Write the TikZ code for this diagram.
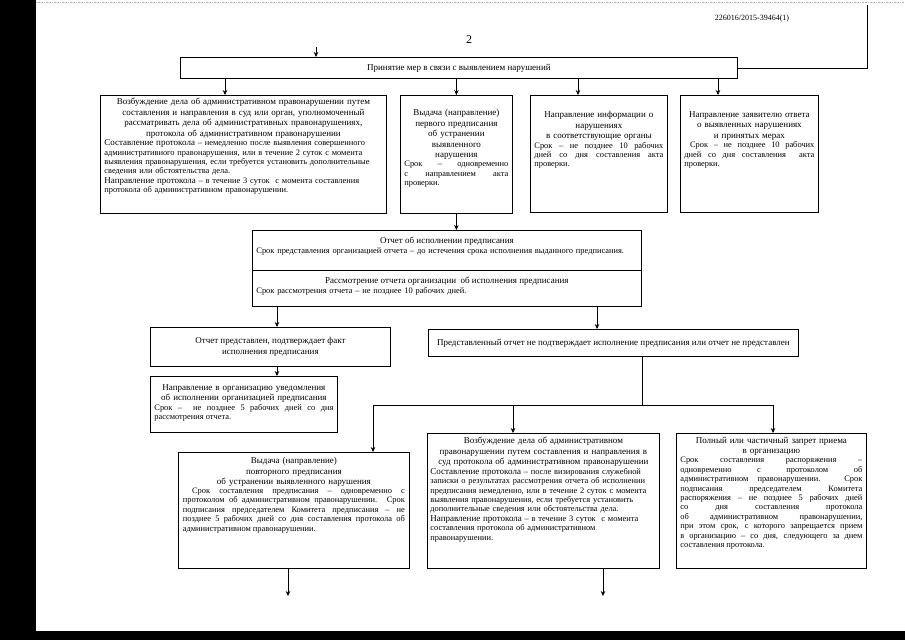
\documentclass[tikz,border=0pt]{standalone}
\usepackage{fontspec}
\setmainfont{Liberation Serif}
\usetikzlibrary{arrows.meta,positioning}
\setlength{\parindent}{0pt}

\newcommand{\ttlfont}{\fontsize{9}{10.6}\selectfont}
\newcommand{\smlfont}{\fontsize{8.4}{9.4}\selectfont}

\begin{document}
\begin{tikzpicture}[x=1pt, y=-1pt,
  box/.style={draw, line width=0.8pt, anchor=north west, inner sep=0pt},
  ttl/.style={font=\ttlfont, align=center, inner sep=0pt},
  txt/.style={font=\smlfont, align=justify, inner sep=0pt},
  ltxt/.style={font=\smlfont, align=left, inner sep=0pt},
  arr/.style={-{Stealth[length=5pt, width=4.5pt]}, line width=0.6pt},
  ln/.style={line width=0.6pt}
]
\useasboundingbox (0,0) rectangle (905,640);
% scan border
\fill[black] (0,0) rectangle (36,640);
\fill[black] (0,631) rectangle (905,640);
\draw[gray!60, densely dotted, line width=0.6pt] (36,2) -- (905,2);

\node[font=\fontsize{8}{9}\selectfont] (docno) at (752,19) {226016/2015-39464(1)};
\node[font=\fontsize{12}{14}\selectfont] (pgno) at (469,40) {2};

% top level
\node[box, minimum width=557pt, minimum height=21pt] (top) at (180,57) {};
\node[ttl] (topT) at (top.center) {Принятие мер в связи с выявлением нарушений};

\node[box, minimum width=286pt, minimum height=118pt] (boxA) at (100,95) {};
\node[ttl, text width=280pt, below=3pt of boxA.north] (boxAT) {Возбуждение дела об административном правонарушении путем\\
  составления и направления в суд или орган, уполномоченный\\
  рассматривать дела об административных правонарушениях,\\
  протокола об административном правонарушении};
\node[ltxt, text width=278pt, below=1pt of boxAT] (boxAB) {{\ttlfont Составление протокола} – немедленно после выявления совершенного\\
  административного правонарушения, или в течение 2 суток с момента\\
  выявления правонарушения, если требуется установить дополнительные\\
  сведения или обстоятельства дела.\\
  {\ttlfont Направление протокола} – в течение 3 суток~ с момента составления\\
  протокола об административном правонарушении.};

\node[box, minimum width=112pt, minimum height=118pt] (boxB) at (400,95) {};
\node[ttl, text width=106pt, below=14pt of boxB.north] (boxBT) {Выдача (направление)\\ первого предписания\\ об устранении\\ выявленного\\ нарушения};
\node[txt, text width=104pt, below=1pt of boxBT] (boxBB) {Срок – одновременно\linebreak с направлением акта\linebreak проверки.};

\node[box, minimum width=137pt, minimum height=117pt] (boxC) at (530,95) {};
\node[ttl, text width=131pt, below=16pt of boxC.north] (boxCT) {Направление информации о\\ нарушениях\\ в соответствующие органы};
\node[txt, text width=129pt, below=1pt of boxCT] (boxCB) {Срок – не позднее 10 рабочих\linebreak дней со дня составления акта\linebreak проверки.};

\node[box, minimum width=138pt, minimum height=117pt] (boxD) at (680,95) {};
\node[ttl, text width=132pt, below=16pt of boxD.north] (boxDT) {Направление заявителю ответа\\ о выявленных нарушениях\\ и принятых мерах};
\node[txt, text width=130pt, below=1pt of boxDT] (boxDB) {~Срок – не позднее 10 рабочих\linebreak дней со дня составления~ акта\linebreak проверки.};

% report
\node[box, minimum width=389pt, minimum height=40pt] (repA) at (252,230) {};
\node[ttl, below=7pt of repA.north] (repAT) {Отчет об исполнении предписания};
\node[ltxt, text width=381pt, below=2pt of repAT] (repAB) {Срок представления организацией отчета – до истечения срока исполнения выданного предписания.};
\node[box, minimum width=389pt, minimum height=36pt] (repB) at (252,270) {};
\node[ttl, below=7pt of repB.north] (repBT) {Рассмотрение отчета организации~ об исполнения предписания};
\node[ltxt, text width=381pt, below=2pt of repBT] (repBB) {Срок рассмотрения отчета – не позднее 10 рабочих дней.};

% confirmed
\node[box, minimum width=240pt, minimum height=39pt] (ok) at (150,327) {};
\node[ttl] (okT) at (ok.center) {Отчет представлен, подтверждает факт\\ исполнения предписания};
\node[box, minimum width=187pt, minimum height=56pt] (note) at (150,376) {};
\node[ttl, text width=181pt, below=8pt of note.north] (noteT) {Направление в организацию уведомления\\ об исполнении организацией предписания};
\node[txt, text width=179pt, below=1pt of noteT] (noteB) {Срок –~ не позднее 5 рабочих дней со дня\linebreak рассмотрения отчета.};

% not confirmed
\node[box, minimum width=370pt, minimum height=27pt] (bad) at (428,329) {};
\node[ttl] (badT) at (bad.center) {Представленный отчет не подтверждает исполнение предписания или отчет не представлен};

\node[box, minimum width=231pt, minimum height=116pt] (boxE) at (178,452) {};
\node[ttl, text width=225pt, below=5pt of boxE.north] (boxET) {Выдача (направление)\\ повторного предписания\\ об устранении выявленного нарушения};
\node[txt, text width=222pt, below=1pt of boxET] (boxEB) {~Срок составления предписания – одновременно с\linebreak
  протоколом об административном правонарушении. Срок\linebreak
  подписания председателем Комитета предписания – не\linebreak
  позднее 5 рабочих дней со дня составления протокола об\linebreak
  административном правонарушении.};

\node[box, minimum width=232pt, minimum height=135pt] (boxF) at (427,433) {};
\node[ttl, text width=228pt, below=4pt of boxF.north] (boxFT) {Возбуждение дела об административном\\
  правонарушении путем составления и направления в\\
  суд протокола об административном правонарушении};
\node[ltxt, text width=226pt, below=1pt of boxFT] (boxFB) {{\ttlfont Составление протокола} – после визирования служебной\\
  записки о результатах рассмотрения отчета об исполнении\\
  предписания немедленно, или в течение 2 суток с момента\\
  выявления правонарушения, если требуется установить\\
  дополнительные сведения или обстоятельства дела.\\
  {\ttlfont Направление протокола} – в течение 3 суток~ с момента\\
  составления протокола об административном\\
  правонарушении.};

\node[box, minimum width=190pt, minimum height=135pt] (boxG) at (676,433) {};
\node[ttl, text width=184pt, below=4pt of boxG.north] (boxGT) {Полный или частичный запрет приема\\ в организацию};
\node[txt, text width=182pt, below=1pt of boxGT] (boxGB) {Срок составления распоряжения –\linebreak
  одновременно с протоколом об\linebreak
  административном правонарушении. Срок\linebreak
  подписания председателем Комитета\linebreak
  распоряжения – не позднее 5 рабочих дней\linebreak
  со дня составления протокола\linebreak
  об административном правонарушении,\linebreak
  при этом срок, с которого запрещается прием\linebreak
  в организацию – со дня, следующего за днем\linebreak
  составления протокола.};

% connectors
\coordinate (in0) at (316,47);
\coordinate (rt) at (867,5);
\coordinate (pA) at (225,0);
\coordinate (pC) at (578,0);
\coordinate (pD) at (718,0);
\coordinate (pOk) at (277,0);
\coordinate (pBad) at (597,0);
\coordinate (pSplit) at (642,0);
\coordinate (jL) at (373,405);
\coordinate (jR) at (773,405);
\coordinate (pF) at (513,0);
\coordinate (oE) at (288,596);
\coordinate (oF) at (603,596);

\draw[arr] (in0) -- (in0 |- top.north);
\draw[ln] (rt) |- (top.east);
\draw[arr] (top.south -| pA) -- (boxA.north -| pA);
\draw[arr] (top.south -| boxB.north) -- (boxB.north);
\draw[arr] (top.south -| pC) -- (boxC.north -| pC);
\draw[arr] (top.south -| pD) -- (boxD.north -| pD);
\draw[arr] (boxB.south) -- (repA.north -| boxB.south);
\draw[arr] (repB.south -| pOk) -- (ok.north -| pOk);
\draw[arr] (ok.south -| pOk) -- (note.north -| pOk);
\draw[arr] (repB.south -| pBad) -- (bad.north -| pBad);
\draw[ln] (bad.south -| pSplit) -- (jL -| pSplit);
\draw[ln] (jL) -- (jR);
\draw[arr] (jL) -- (boxE.north -| jL);
\draw[arr] (jL -| pF) -- (boxF.north -| pF);
\draw[arr] (jR) -- (boxG.north -| jR);
\draw[arr] (boxE.south -| oE) -- (oE);
\draw[arr] (boxF.south -| oF) -- (oF);
\end{tikzpicture}
\end{document}
